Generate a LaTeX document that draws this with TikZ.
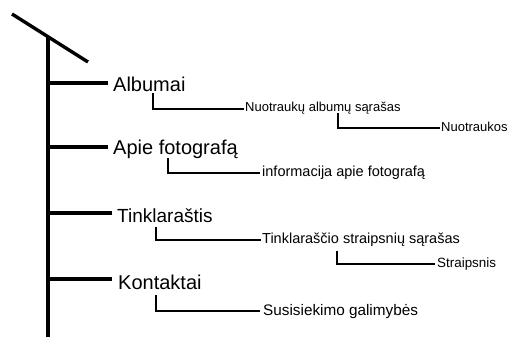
\documentclass[tikz,border=0pt]{standalone}
\usepackage{fontspec}
\setmainfont{Liberation Sans}
\begin{document}
\begin{tikzpicture}[x=1pt,y=-1pt,
  mainline/.style={line width=3.4pt},
  subline/.style={line width=2.8pt},
  lvlone/.style={anchor=base west, inner sep=0pt, font=\fontsize{20}{24}\selectfont},
  lvltwo/.style={anchor=base west, inner sep=0pt, font=\fontsize{14.5}{17}\selectfont}]
\useasboundingbox (0,0) rectangle (510,337);
% trunk
\coordinate (d1) at (12,14);
\coordinate (d2) at (88,62);
\coordinate (top) at (48,37);
\coordinate (bot) at (48,337);
\draw[mainline] (d1) -- (d2);
\draw[mainline] (top) -- (bot);
% level one
\node[lvlone] (alb) at (113,91) {Albumai};
\node[lvlone] (apie) at (113,154) {Apie fotografą};
\node[lvlone, font=\fontsize{19}{23}\selectfont] (tink) at (117,222) {Tinklaraštis};
\node[lvlone] (kont) at (118,289) {Kontaktai};
\coordinate (b1) at (48,83);
\coordinate (b2) at (48,147);
\coordinate (b3) at (48,213);
\coordinate (b4) at (48,279);
\draw[mainline] (b1) -- ([xshift=-5pt]b1 -| alb.west);
\draw[mainline] (b2) -- ([xshift=-5pt]b2 -| apie.west);
\draw[mainline] (b3) -- ([xshift=-5pt]b3 -| tink.west);
\draw[mainline] (b4) -- ([xshift=-6pt]b4 -| kont.west);
% level two
\node[lvltwo, font=\fontsize{13}{16}\selectfont] (nal) at (245,111) {Nuotraukų albumų sąrašas};
\node[lvltwo, font=\fontsize{13}{16}\selectfont] (nuo) at (441,131) {Nuotraukos};
\node[lvltwo] (info) at (262,176) {informacija apie fotografą};
\node[lvltwo] (tsr) at (262,243) {Tinklaraščio straipsnių sąrašas};
\node[lvltwo, font=\fontsize{13.4}{16}\selectfont] (str) at (437,267) {Straipsnis};
\node[lvltwo, font=\fontsize{15.3}{18}\selectfont] (sus) at (263,315) {Susisiekimo galimybės};
\coordinate (s1) at (153,93);
\coordinate (s2) at (338,113);
\coordinate (s3) at (168,158);
\coordinate (s4) at (156,227);
\coordinate (s5) at (337,251);
\coordinate (s6) at (156,295);
\draw[subline] (s1) |- ([xshift=-1pt,yshift=2pt]nal.base west);
\draw[subline] (s2) |- ([xshift=-1pt,yshift=3pt]nuo.base west);
\draw[subline] (s3) |- ([xshift=-2pt,yshift=3pt]info.base west);
\draw[subline] (s4) |- ([xshift=-1pt,yshift=3pt]tsr.base west);
\draw[subline] (s5) |- ([xshift=-2pt,yshift=3pt]str.base west);
\draw[subline] (s6) |- ([xshift=-3pt,yshift=4pt]sus.base west);
\end{tikzpicture}
\end{document}
